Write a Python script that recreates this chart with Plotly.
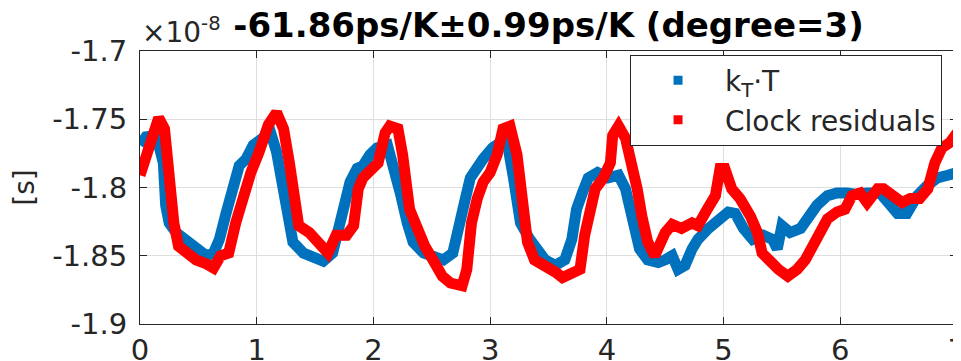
import plotly.graph_objects as go

# ---- data (x in the plot's x units, y in units of 1e-8 s) ----
kt_x = [0.00, 0.05, 0.14, 0.20, 0.22, 0.25, 0.31, 0.39, 0.48, 0.57, 0.63, 0.68, 0.74, 0.80, 0.85, 0.91,
        0.97, 1.05, 1.12, 1.17, 1.23, 1.27, 1.31, 1.40, 1.48, 1.57, 1.65, 1.74, 1.80, 1.86, 1.91, 1.97,
        2.03, 2.12, 2.17, 2.23, 2.29, 2.34, 2.43, 2.51, 2.60, 2.68, 2.74, 2.78, 2.83, 2.89, 2.94, 3.02,
        3.08, 3.14, 3.20, 3.26, 3.34, 3.41, 3.47, 3.56, 3.64, 3.70, 3.74, 3.79, 3.84, 3.92, 4.01, 4.10,
        4.16, 4.22, 4.28, 4.35, 4.44, 4.50, 4.56, 4.61, 4.67, 4.73, 4.78, 4.87, 4.95, 5.04, 5.10, 5.17,
        5.25, 5.34, 5.42, 5.46, 5.50, 5.57, 5.66, 5.72, 5.80, 5.89, 5.97, 6.06, 6.14, 6.23, 6.34, 6.43,
        6.49, 6.57, 6.66, 6.74, 6.83, 6.92, 7.00]
kt_y = [-1.769, -1.763, -1.762, -1.782, -1.813, -1.826, -1.833, -1.838, -1.845, -1.850, -1.848, -1.838,
        -1.818, -1.799, -1.784, -1.779, -1.769, -1.764, -1.760, -1.774, -1.801, -1.826, -1.840, -1.848,
        -1.850, -1.854, -1.848, -1.813, -1.796, -1.786, -1.784, -1.776, -1.771, -1.769, -1.782, -1.804,
        -1.826, -1.840, -1.848, -1.850, -1.853, -1.848, -1.830, -1.811, -1.793, -1.784, -1.779, -1.771,
        -1.767, -1.764, -1.793, -1.826, -1.838, -1.845, -1.853, -1.857, -1.853, -1.838, -1.816, -1.804,
        -1.793, -1.789, -1.793, -1.791, -1.801, -1.823, -1.845, -1.853, -1.855, -1.853, -1.850, -1.860,
        -1.857, -1.845, -1.838, -1.830, -1.823, -1.818, -1.819, -1.830, -1.838, -1.835, -1.838, -1.845,
        -1.828, -1.833, -1.830, -1.821, -1.813, -1.806, -1.804, -1.804, -1.805, -1.804, -1.804, -1.813,
        -1.819, -1.819, -1.806, -1.799, -1.793, -1.791, -1.789]

clk_x = [0.00, 0.05, 0.11, 0.16, 0.21, 0.25, 0.29, 0.33, 0.39, 0.48, 0.57, 0.63, 0.69, 0.76, 0.82, 0.88,
         0.95, 1.02, 1.10, 1.17, 1.23, 1.28, 1.32, 1.36, 1.45, 1.53, 1.61, 1.68, 1.77, 1.83, 1.87, 1.91,
         1.97, 2.04, 2.10, 2.14, 2.21, 2.25, 2.31, 2.37, 2.44, 2.51, 2.59, 2.66, 2.76, 2.80, 2.84, 2.89,
         2.94, 3.00, 3.06, 3.11, 3.17, 3.23, 3.27, 3.32, 3.38, 3.47, 3.56, 3.62, 3.70, 3.77, 3.81, 3.86,
         3.90, 3.97, 4.03, 4.05, 4.10, 4.16, 4.20, 4.26, 4.30, 4.35, 4.41, 4.46, 4.50, 4.56, 4.64, 4.73,
         4.78, 4.86, 4.93, 4.97, 5.01, 5.07, 5.14, 5.23, 5.29, 5.33, 5.40, 5.47, 5.55, 5.63, 5.70, 5.77,
         5.83, 5.89, 5.97, 6.04, 6.10, 6.17, 6.23, 6.32, 6.37, 6.45, 6.53, 6.60, 6.68, 6.75, 6.81, 6.87,
         6.94, 7.00]
clk_y = [-1.791, -1.776, -1.760, -1.749, -1.757, -1.793, -1.826, -1.843, -1.848, -1.853, -1.856, -1.859,
         -1.850, -1.848, -1.826, -1.808, -1.789, -1.774, -1.754, -1.745, -1.757, -1.782, -1.813, -1.828,
         -1.833, -1.840, -1.848, -1.835, -1.835, -1.828, -1.801, -1.793, -1.789, -1.782, -1.760, -1.755,
         -1.757, -1.776, -1.816, -1.830, -1.843, -1.853, -1.865, -1.870, -1.872, -1.860, -1.826, -1.808,
         -1.796, -1.789, -1.776, -1.757, -1.755, -1.776, -1.811, -1.840, -1.853, -1.857, -1.862, -1.866,
         -1.862, -1.860, -1.835, -1.811, -1.801, -1.793, -1.782, -1.762, -1.755, -1.764, -1.776, -1.801,
         -1.821, -1.840, -1.850, -1.838, -1.833, -1.827, -1.830, -1.826, -1.828, -1.816, -1.806, -1.786,
         -1.786, -1.801, -1.808, -1.821, -1.833, -1.848, -1.855, -1.860, -1.865, -1.860, -1.853, -1.843,
         -1.833, -1.823, -1.818, -1.816, -1.806, -1.804, -1.811, -1.801, -1.801, -1.806, -1.811, -1.808,
         -1.808, -1.801, -1.782, -1.771, -1.767, -1.760]

series_names = ["k<sub>T</sub>·T", "Clock residuals"]
series_colors = ["#0072BD", "#FF0000"]

x_tickvals = [0, 1, 2, 3, 4, 5, 6, 7]
x_ticktext = ["0", "1", "2", "3", "4", "5", "6", "7"]
y_tickvals = [-1.9, -1.85, -1.8, -1.75, -1.7]
y_ticktext = ["-1.9", "-1.85", "-1.8", "-1.75", "-1.7"]

title_text = "-61.86ps/K±0.99ps/K (degree=3)"
exponent_text = "×10<sup>-8</sup>"
y_label = "[s]"

FONT = "DejaVu Sans"
AX = "#262626"

# the page body has an 8px margin, so the figure is 8px smaller than the window
W, H = 953, 353

fig = go.Figure()
for xs, ys, col in [(kt_x, kt_y, series_colors[0]), (clk_x, clk_y, series_colors[1])]:
    fig.add_trace(go.Scatter(x=xs, y=ys, mode="lines",
                             line=dict(color=col, width=11),
                             showlegend=False, hoverinfo="skip"))
for name, col in zip(series_names, series_colors):
    fig.add_trace(go.Scatter(x=[None], y=[None], mode="markers", name=name,
                             marker=dict(symbol="square", size=9, color=col)))

axis_common = dict(showline=True, linecolor=AX, linewidth=1, mirror="allticks",
                   ticks="inside", ticklen=7, tickwidth=1, tickcolor=AX,
                   showgrid=True, gridcolor="#dedede", gridwidth=1, zeroline=False,
                   automargin=False, ticklabeloverflow="allow",
                   tickfont=dict(family=FONT, size=29, color=AX))

fig.update_xaxes(range=[0, 7], tickvals=x_tickvals, ticktext=x_ticktext,
                 ticklabelstandoff=0, **axis_common)
fig.update_yaxes(range=[-1.9, -1.7], tickvals=y_tickvals, ticktext=y_ticktext,
                 ticklabelstandoff=6,
                 title=dict(text=y_label, font=dict(family=FONT, size=28, color=AX), standoff=30),
                 **axis_common)

fig.update_layout(
    width=W, height=H,
    margin=dict(l=132, r=4, t=43, b=37, pad=0, autoexpand=False),
    paper_bgcolor="white", plot_bgcolor="white",
    font=dict(family=FONT, color=AX),
    title=dict(text="<b>" + title_text + "</b>", x=0.5, xref="paper", xanchor="center",
               y=1 - 17 / H, yref="container", yanchor="middle",
               font=dict(family=FONT, size=34, color="black")),
    legend=dict(x=0.5998, y=0.987, xanchor="left", yanchor="top",
                bgcolor="white", bordercolor=AX, borderwidth=1,
                font=dict(family=FONT, size=28, color=AX),
                itemwidth=84),
    annotations=[dict(text=exponent_text, xref="paper", yref="paper", x=0, y=1,
                      xanchor="left", yanchor="bottom", showarrow=False,
                      font=dict(family=FONT, size=28, color=AX))],
)

fig.write_html("out.html")
